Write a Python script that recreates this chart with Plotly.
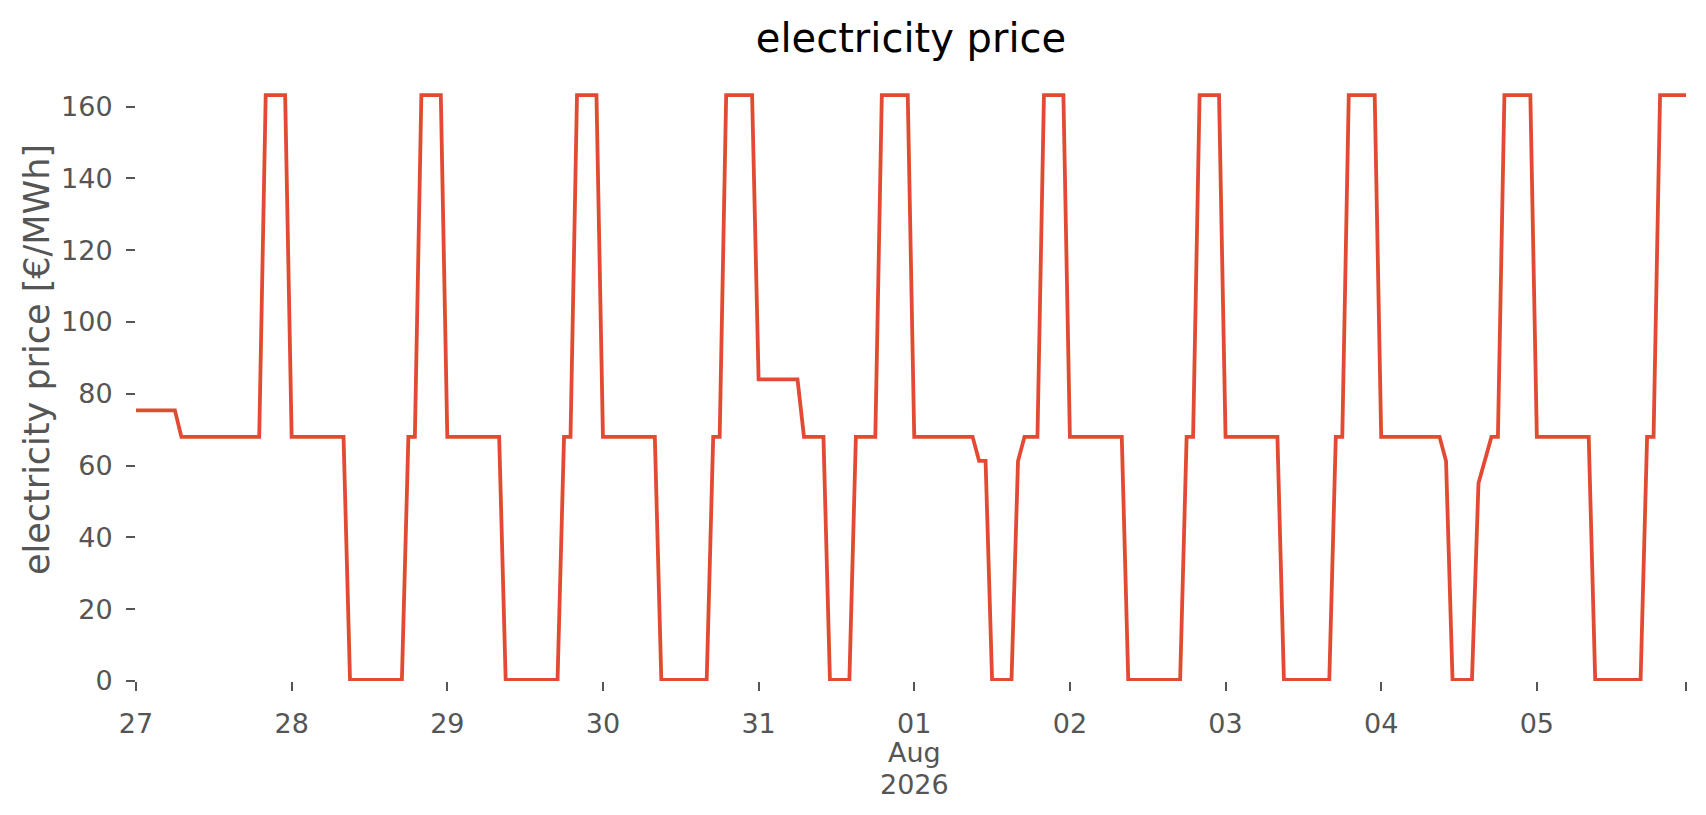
import plotly.graph_objects as go
import pandas as pd

# Precio horario (EUR/MWh), un dia por lista
jul27 = [75.4, 75.4, 75.4, 75.4, 75.4, 75.4, 75.4,
         68.0, 68.0, 68.0, 68.0, 68.0, 68.0, 68.0, 68.0, 68.0, 68.0, 68.0, 68.0, 68.0,
         163.2, 163.2, 163.2, 163.2]
jul28 = [68.0, 68.0, 68.0, 68.0, 68.0, 68.0, 68.0, 68.0, 68.0,
         0.3, 0.3, 0.3, 0.3, 0.3, 0.3, 0.3, 0.3, 0.3,
         68.0, 68.0,
         163.2, 163.2, 163.2, 163.2]
jul29 = [68.0, 68.0, 68.0, 68.0, 68.0, 68.0, 68.0, 68.0, 68.0,
         0.3, 0.3, 0.3, 0.3, 0.3, 0.3, 0.3, 0.3, 0.3,
         68.0, 68.0,
         163.2, 163.2, 163.2, 163.2]
jul30 = [68.0, 68.0, 68.0, 68.0, 68.0, 68.0, 68.0, 68.0, 68.0,
         0.3, 0.3, 0.3, 0.3, 0.3, 0.3, 0.3, 0.3,
         68.0, 68.0,
         163.2, 163.2, 163.2, 163.2, 163.2]
jul31 = [84.0, 84.0, 84.0, 84.0, 84.0, 84.0, 84.0,
         68.0, 68.0, 68.0, 68.0,
         0.3, 0.3, 0.3, 0.3,
         68.0, 68.0, 68.0, 68.0,
         163.2, 163.2, 163.2, 163.2, 163.2]
aug01 = [68.0, 68.0, 68.0, 68.0, 68.0, 68.0, 68.0, 68.0, 68.0, 68.0,
         61.3, 61.3,
         0.3, 0.3, 0.3, 0.3,
         61.3,
         68.0, 68.0, 68.0,
         163.2, 163.2, 163.2, 163.2]
aug02 = [68.0, 68.0, 68.0, 68.0, 68.0, 68.0, 68.0, 68.0, 68.0,
         0.3, 0.3, 0.3, 0.3, 0.3, 0.3, 0.3, 0.3, 0.3,
         68.0, 68.0,
         163.2, 163.2, 163.2, 163.2]
aug03 = [68.0, 68.0, 68.0, 68.0, 68.0, 68.0, 68.0, 68.0, 68.0,
         0.3, 0.3, 0.3, 0.3, 0.3, 0.3, 0.3, 0.3,
         68.0, 68.0,
         163.2, 163.2, 163.2, 163.2, 163.2]
aug04 = [68.0, 68.0, 68.0, 68.0, 68.0, 68.0, 68.0, 68.0, 68.0, 68.0,
         61.3,
         0.3, 0.3, 0.3, 0.3,
         55.1, 61.3,
         68.0, 68.0,
         163.2, 163.2, 163.2, 163.2, 163.2]
aug05 = [68.0, 68.0, 68.0, 68.0, 68.0, 68.0, 68.0, 68.0, 68.0,
         0.3, 0.3, 0.3, 0.3, 0.3, 0.3, 0.3, 0.3,
         68.0, 68.0,
         163.2, 163.2, 163.2, 163.2, 163.2]

dias = [jul27, jul28, jul29, jul30, jul31, aug01, aug02, aug03, aug04, aug05]
precio = [p for dia in dias for p in dia]

inicio = "2026-07-27 00:00"
tiempo = pd.date_range(inicio, periods=len(precio), freq="h")

# Etiquetas del eje x (como pandas: dia, y mes/anio debajo al cambiar de mes)
tick_fechas = ["2026-07-27", "2026-07-28", "2026-07-29", "2026-07-30", "2026-07-31",
               "2026-08-01", "2026-08-02", "2026-08-03", "2026-08-04", "2026-08-05"]
tick_textos = ["27", "28", "29", "30", "31", "01", "02", "03", "04", "05"]
fecha_mes = "2026-08-01"
texto_mes = ["Aug", "2026"]

tick_vals = [pd.Timestamp(f) for f in tick_fechas] + [tiempo[-1]]
tick_text = tick_textos + [""]

gris = "#555555"
fuente = "DejaVu Sans"

fig = go.Figure()

fig.add_trace(go.Scatter(
    x = tiempo,
    y = precio,
    mode = 'lines',
    name = 'electricity price',
    line = dict(color='#E24A33', width=3.8)
))

fig.update_layout(
    width = 1706,
    height = 815,
    paper_bgcolor = 'white',
    plot_bgcolor = 'white',
    showlegend = False,
    margin = dict(l=136, r=20, t=66, b=134),
    font = dict(family=fuente, size=27, color=gris),
    title = dict(
        text = "electricity price",
        font = dict(family=fuente, size=40, color='black'),
        x = 0.5,
        xref = 'paper',
        xanchor = 'center',
        y = 1 - 38/815,
        yref = 'container',
        yanchor = 'middle'
    )
)

fig.update_xaxes(
    range = [tiempo[0], tiempo[-1]],
    tickmode = 'array',
    tickvals = tick_vals,
    ticktext = tick_text,
    ticks = 'outside',
    ticklen = 9,
    tickwidth = 1.6,
    tickcolor = gris,
    ticklabelstandoff = 10,
    tickfont = dict(family=fuente, size=27, color=gris),
    showgrid = False,
    zeroline = False,
    showline = False
)

fig.update_yaxes(
    range = [0, 171.3],
    tickmode = 'array',
    tickvals = [0, 20, 40, 60, 80, 100, 120, 140, 160],
    ticks = 'outside',
    ticklen = 9,
    tickwidth = 1.6,
    tickcolor = gris,
    ticklabelstandoff = 8,
    tickfont = dict(family=fuente, size=27, color=gris),
    showgrid = False,
    zeroline = False,
    showline = False
)

# Mes y anio bajo la etiqueta del 01 (interlineado como matplotlib)
for i, linea in enumerate(texto_mes):
    fig.add_annotation(
        text = linea,
        font = dict(family=fuente, size=27, color=gris),
        xref = 'x',
        yref = 'paper',
        x = pd.Timestamp(fecha_mes),
        y = 0,
        xanchor = 'center',
        yanchor = 'middle',
        yshift = -(71 + 32.5 * i),
        borderpad = 0,
        showarrow = False
    )

# Titulo del eje y como anotacion para fijar su posicion
fig.add_annotation(
    text = "electricity price [€/MWh]",
    textangle = -90,
    font = dict(family=fuente, size=35, color=gris),
    xref = 'paper',
    yref = 'paper',
    x = (37 - 136) / 1550,
    y = (681 - 360) / 615,
    xanchor = 'center',
    yanchor = 'middle',
    showarrow = False
)

# Quitar el margen del body para que la figura empiece en (0, 0)
fig.write_html("out.html", config={'displayModeBar': False},
               post_script="document.body.style.margin='0';")
